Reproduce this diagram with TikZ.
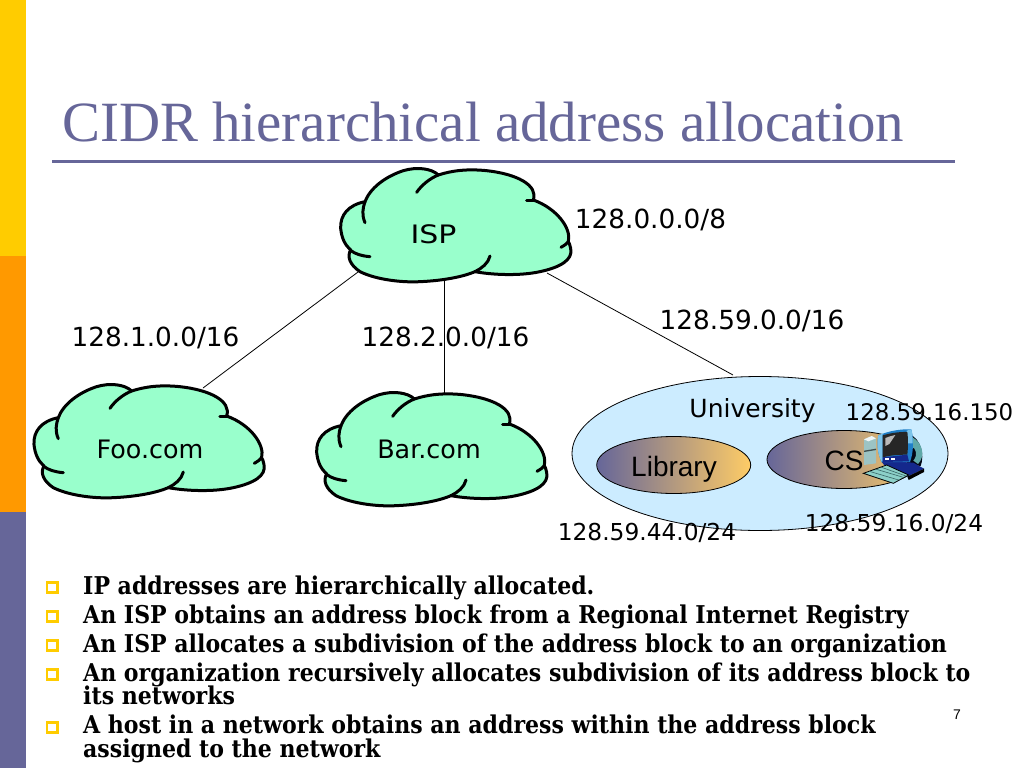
\documentclass[tikz,border=0pt]{standalone}
\usetikzlibrary{shapes.geometric}
\usepackage{fontspec}
\setmainfont{Liberation Serif}
\newfontfamily\labelfont{DejaVu Sans}
\newfontfamily\arialfont{Liberation Sans}
\newfontfamily\bodyfont{DejaVu Serif Condensed}[BoldFont={DejaVu Serif Condensed Bold}]
\definecolor{slate}{HTML}{666699}
\definecolor{amber}{HTML}{FFCC00}
\definecolor{tangerine}{HTML}{FF9900}
\definecolor{mint}{HTML}{99FFCC}
\definecolor{skyfill}{HTML}{CCECFF}
\definecolor{sandy}{HTML}{FFCC66}
\definecolor{iconframe}{HTML}{1F7FC8}
\definecolor{iconlight}{HTML}{7CC4EA}
\definecolor{iconnavy}{HTML}{14288C}
\definecolor{iconteal}{HTML}{5FA8A8}
\definecolor{icontower}{HTML}{9CC4C4}
\definecolor{iconkeys}{HTML}{8CD0C8}
\tikzset{
  lbl/.style={inner sep=0pt,anchor=base,text=black,font=\labelfont\fontsize{#1}{#1}\selectfont},
  arl/.style={inner sep=0pt,anchor=base,text=black,font=\arialfont\fontsize{#1}{#1}\selectfont},
  bodyline/.style={inner sep=0pt,anchor=base west,text=black,font=\bodyfont\bfseries\fontsize{24.5}{24.5}\selectfont},
  bulletmark/.style={draw=amber,line width=2.6pt,minimum size=10.4pt,inner sep=0pt,fill=white},
  link/.style={draw=black,line width=0.8pt},
  cloudline/.style={draw=black,line width=3pt,line cap=round,line join=round},
  gradoval/.style={draw=black,line width=0.8pt,left color=slate,right color=sandy}
}
\newcommand{\cloudat}[2]{%
  \begin{scope}[xshift=#1pt,yshift=-#2pt,x=0.33333pt,y=-0.33333pt]
    \path[cloudline,fill=mint] (135,155)
      .. controls (85,165) and (60,195) .. (62,235)
      .. controls (65,265) and (75,285) .. (92,300)
      .. controls (80,320) and (90,345) .. (120,365)
      .. controls (170,390) and (250,398) .. (300,395)
      .. controls (370,392) and (430,380) .. (465,365)
      .. controls (520,375) and (600,378) .. (660,365)
      .. controls (720,352) and (760,330) .. (752,295)
      .. controls (750,285) and (748,280) .. (745,275)
      .. controls (755,235) and (710,175) .. (640,150)
      .. controls (655,105) and (590,72) .. (500,62)
      .. controls (440,56) and (395,62) .. (355,75)
      .. controls (335,55) and (290,50) .. (250,62)
      .. controls (195,80) and (150,115) .. (135,155) -- cycle;
    \path[cloudline] (135,218) .. controls (125,195) and (128,175) .. (135,155);
    \path[cloudline] (90,300) .. controls (105,312) and (125,318) .. (150,320);
    \path[cloudline] (290,127) .. controls (305,105) and (330,85) .. (355,75);
    \path[cloudline] (510,318) .. controls (505,340) and (485,355) .. (465,365);
    \path[cloudline] (620,150) -- (640,150);
    \path[cloudline] (723,292) .. controls (735,285) and (742,280) .. (745,275);
  \end{scope}}
\begin{document}
\begin{tikzpicture}[x=1pt,y=-1pt]
\useasboundingbox (0,0) rectangle (1024,768);
\fill[white] (0,0) rectangle (1024,768);
% side bands
\fill[amber] (0,0) rectangle (25.5,256);
\fill[tangerine] (0,256) rectangle (25.5,512);
\fill[slate] (0,512) rectangle (25.5,768);
% title
\node[inner sep=0pt,anchor=base west,text=slate,font=\fontsize{56.9}{56.9}\selectfont] (title) at (62,141) {CIDR hierarchical address allocation};
\draw[slate,line width=2.4pt] (52,161.5) -- (955,161.5);
% anchor points for the links
\coordinate (ispA) at (358,272);
\coordinate (ispB) at (444,281);
\coordinate (ispC) at (547,273);
\coordinate (fooT) at (203,388);
\coordinate (barT) at (444,393);
\coordinate (uniT) at (733,375);
\draw[link] (ispA) -- (fooT);
\draw[link] (ispB) -- (barT);
\draw[link] (ispC) -- (uniT);
% clouds
\cloudat{320}{150}
\cloudat{13.3}{366}
\cloudat{296}{374}
\node[lbl=25.4,xscale=1.18,transform shape] (isp) at (433.5,243) {ISP};
\node[lbl=25.4] (foo) at (150,458) {Foo.com};
\node[lbl=25.4] (bar) at (429,458) {Bar.com};
% university
\node[ellipse,draw=black,line width=0.8pt,fill=skyfill,minimum width=376pt,minimum height=154pt,inner sep=0pt] (uni) at (760,453.5) {};
\node[ellipse,gradoval,minimum width=154pt,minimum height=57pt,inner sep=0pt] (lib) at (673.7,465) {};
\node[ellipse,gradoval,minimum width=154pt,minimum height=58pt,inner sep=0pt] (cs) at (844,459.5) {};
\node[arl=28] (libt) at (674,476) {Library};
\node[arl=28] (cst) at (844,470) {CS};
% computer icon
\begin{scope}[xshift=850pt,yshift=-420pt,x=0.33333pt,y=-0.33333pt]
  \fill[black!85!iconnavy] (178,42) .. controls (214,58) and (224,105) .. (212,138) -- (170,130) -- cycle;
  \fill[iconteal] (184,50) .. controls (220,68) and (226,110) .. (204,132) -- (190,122) .. controls (204,105) and (200,85) .. (182,78) -- cycle;
  \fill[iconnavy] (92,122) -- (190,128) -- (222,146) -- (172,170) -- (108,142) -- cycle;
  \fill[black] (172,170) -- (222,146) -- (222,156) -- (176,180) -- cycle;
  \fill[icontower] (42,58) -- (65,48) -- (78,55) -- (78,130) -- (42,135) -- cycle;
  \fill[white!85!icontower] (42,58) -- (65,48) -- (78,55) -- (55,64) -- cycle;
  \fill[black!60!icontower] (42,92) -- (78,86) -- (78,90) -- (42,96) -- cycle;
  \fill[iconframe] (85,46) .. controls (120,32) and (150,27) .. (184,28) .. controls (192,60) and (190,100) .. (180,126) -- (95,126) .. controls (82,100) and (80,70) .. (85,46) -- cycle;
  \fill[iconlight] (85,46) -- (98,41) -- (98,122) -- (95,126) .. controls (82,100) and (80,70) .. (85,46) -- cycle;
  \fill[iconlight] (170,32) -- (184,28) .. controls (188,45) and (188,60) .. (188,70) -- (173,70) -- cycle;
  \fill[black!85] (98,46) .. controls (120,40) and (145,35) .. (172,36) .. controls (175,60) and (174,85) .. (172,104) .. controls (145,104) and (120,106) .. (98,112) -- cycle;
  \fill[white!45!gray] (106,54) .. controls (116,50) and (126,47) .. (136,45) -- (118,72) -- (106,78) -- cycle;
  \fill[iconnavy] (98,112) -- (172,104) -- (177,124) -- (98,126) -- cycle;
  \fill[white] (105,115) rectangle (118,121);
  \fill[white] (122,114) rectangle (135,119);
  \fill[iconkeys,draw=black,line width=0.8pt] (40,160) -- (110,135) -- (176,165) -- (130,190) -- cycle;
  \draw[iconteal!60!black,line width=0.6pt] (58,154) -- (146,180) (76,147) -- (160,172) (92,141) -- (168,168);
\end{scope}
% address labels
\node[lbl=26.3] (a8) at (650.5,228) {128.0.0.0/8};
\node[lbl=26.3] (a1) at (155.5,346) {128.1.0.0/16};
\node[lbl=26.3] (a2) at (445.5,346) {128.2.0.0/16};
\node[lbl=26.3] (a59) at (752,329) {128.59.0.0/16};
\node[lbl=25] (univ) at (752.5,417) {University};
\node[lbl=22.9] (host) at (929.5,420) {128.59.16.150};
\node[lbl=23.3] (a44) at (647,540) {128.59.44.0/24};
\node[lbl=23.3] (a16) at (894,531) {128.59.16.0/24};
% bullets
\node[bulletmark] (b1) at (52,587.5) {};
\node[bulletmark] (b2) at (52,616.5) {};
\node[bulletmark] (b3) at (52,645.5) {};
\node[bulletmark] (b4) at (52,674.5) {};
\node[bulletmark] (b5) at (52,727.5) {};
\node[bodyline] (t1) at (83,594) {IP addresses are hierarchically allocated.};
\node[bodyline] (t2) at (83,623) {An ISP obtains an address block from a Regional Internet Registry};
\node[bodyline] (t3) at (83,652) {An ISP allocates a subdivision of the address block to an organization};
\node[bodyline] (t4) at (83,681) {An organization recursively allocates subdivision of its address block to};
\node[bodyline] (t4b) at (83,704) {its networks};
\node[bodyline] (t5) at (83,733) {A host in a network obtains an address within the address block};
\node[bodyline] (t5b) at (83,757) {assigned to the network};
\node[inner sep=0pt,anchor=base,font=\arialfont\fontsize{14}{14}\selectfont] (page) at (957,719) {7};
\end{tikzpicture}
\end{document}
